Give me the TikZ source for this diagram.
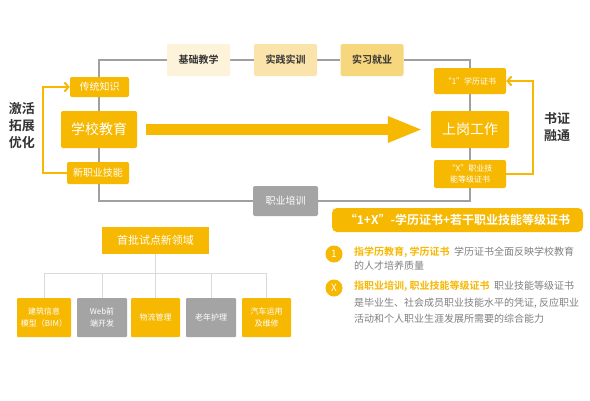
\documentclass[tikz,border=0pt]{standalone}
\usepackage{fontspec}
\setmainfont{Noto Sans CJK SC}[BoldFont={Noto Sans CJK SC Bold}]
\usetikzlibrary{arrows.meta,backgrounds}

\definecolor{yel}{RGB}{246,184,0}
\definecolor{boxgray}{RGB}{164,164,164}
\definecolor{linegray}{RGB}{160,160,160}
\definecolor{treegray}{RGB}{218,218,218}
\definecolor{ink}{RGB}{51,51,51}
\definecolor{note}{RGB}{128,128,128}
\definecolor{creamA}{RGB}{253,243,219}
\definecolor{creamB}{RGB}{250,228,172}
\definecolor{creamC}{RGB}{247,215,126}

\newcommand{\fs}[2]{\fontsize{#1}{#2}\selectfont}

\begin{document}
\begin{tikzpicture}[x=1pt, y=-1pt,
        ybox/.style={fill=yel, text=white, rounded corners=2pt, inner sep=0pt, align=center},
        gbox/.style={fill=boxgray, text=white, rounded corners=2pt, inner sep=0pt, align=center},
        stage/.style={rounded corners=2pt, text=ink, inner sep=0pt, font=\bfseries\fs{10}{12},
            minimum width=63pt, minimum height=32pt},
        leaf/.style={minimum width=50pt, minimum height=39pt, rounded corners=1pt, font=\fs{8}{12}},
        frame/.style={draw=linegray, line width=2pt},
        loopback/.style={draw=yel, line width=2pt, -{Straight Barb[length=4pt,width=9pt]}},
        twig/.style={draw=treegray, line width=0.8pt},
        side/.style={text=ink, align=center, font=\bfseries\fs{13}{17}},
        badge/.style={circle, fill=yel, text=white, minimum size=17pt, inner sep=0pt, font=\fs{10}{10}}]
    \useasboundingbox (0,0) rectangle (590,400);

    \node[stage, fill=creamA] (jichu) at (198.5,60) {基础教学};
    \node[stage, fill=creamB] (shijian) at (285.5,60) {实践实训};
    \node[stage, fill=creamC] (shixi) at (372,60) {实习就业};

    \node[ybox, minimum width=59pt, minimum height=20pt, font=\fs{10}{12}] (chuantong) at (99.5,87) {传统知识};
    \node[ybox, minimum width=76pt, minimum height=37pt, font=\fs{14}{16}] (xuexiao) at (99,129.5) {学校教育};
    \node[ybox, minimum width=62pt, minimum height=22pt, font=\fs{10}{12}] (xinzhiye) at (98,173) {新职业技能};

    \node[ybox, minimum width=72pt, minimum height=26pt, font=\fs{8}{10}] (cert1) at (470,81) {“1”学历证书};
    \node[ybox, minimum width=78pt, minimum height=37pt, font=\fs{14}{16}] (shanggang) at (470,129.5) {上岗工作};
    \node[ybox, minimum width=72pt, minimum height=28pt, font=\fs{8}{11}] (certX) at (470,174) {“X”职业技\\能等级证书};

    \node[gbox, minimum width=65pt, minimum height=30pt, font=\fs{10}{12}] (peixun) at (285.5,201) {职业培训};

    \node[side] (jihuo) at (22,126) {激活\\拓展\\优化};
    \node[side] (shuzheng) at (557,127) {书证\\融通};

    \draw[loopback] (xinzhiye.west) -- ++(-24,0) |- (chuantong.west);
    \draw[loopback] (certX.east) -- ++(27,0) |- (cert1.east);
    \draw[draw=yel, line width=11pt, -{Triangle[length=35pt,width=24pt]}]
        ([xshift=9pt]xuexiao.east) -- ([xshift=-8pt]shanggang.west);

    \node[ybox, minimum width=251pt, minimum height=24pt, rounded corners=5pt, font=\bfseries\fs{12}{14}] (banner)
        at (457.5,220) {“1+X”-学历证书+若干职业技能等级证书};

    \node[badge] (one) at (334,254) {1};
    \node[badge] (ex) at (334,288) {X};
    \node[anchor=north west, inner sep=0pt, align=left, text=note, font=\fs{10}{14}] (oneText) at (354,247)
        {\textcolor{yel}{\bfseries 指学历教育, 学历证书}\ \ 学历证书全面反映学校教育\\的人才培养质量};
    \node[anchor=north west, inner sep=0pt, align=left, text=note, font=\fs{10}{16.5}] (exText) at (354,281)
        {\textcolor{yel}{\bfseries 指职业培训, 职业技能等级证书}\ \ 职业技能等级证书\\是毕业生、社会成员职业技能水平的凭证, 反应职业\\活动和个人职业生涯发展所需要的综合能力};

    \node[ybox, minimum width=107pt, minimum height=27pt, rounded corners=0pt, font=\fs{11}{13}] (lingyu) at (155.5,240.5) {首批试点新领域};
    \node[ybox, leaf, minimum width=54pt] (bim) at (44,317.5) {建筑信息\\模型（BIM）};
    \node[gbox, leaf] (web) at (102,317.5) {Web前\\端开发};
    \node[ybox, leaf, minimum width=49pt] (wuliu) at (155.5,317.5) {物流管理};
    \node[gbox, leaf] (laonian) at (211,317.5) {老年护理};
    \node[ybox, leaf, minimum width=49pt] (qiche) at (266.5,317.5) {汽车运用\\及维修};

    \coordinate (hub) at (155.5,273);
    \draw[twig] (lingyu) -- (hub);
    \draw[twig] (hub) -| (bim);
    \draw[twig] (hub) -| (web);
    \draw[twig] (hub) -- (wuliu);
    \draw[twig] (hub) -| (laonian);
    \draw[twig] (hub) -| (qiche);

    \begin{scope}[on background layer]
        \fill[white] (0,0) rectangle (590,400);
        \draw[frame] (xuexiao.center) |- (jichu) -- (shijian) -- (shixi) -| (shanggang.center);
        \draw[frame] (xuexiao.center) |- (peixun) -| (shanggang.center);
    \end{scope}
\end{tikzpicture}
\end{document}
